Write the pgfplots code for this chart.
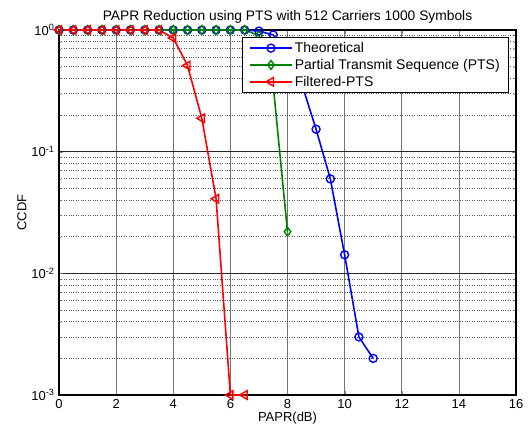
\documentclass[border=0pt]{standalone}
\usepackage{pgfplots}
\pgfplotsset{compat=1.18}
\usepackage{fontspec}
\setmainfont{Liberation Sans}
\begin{document}
\begin{tikzpicture}
\begin{axis}[
  scale only axis,
  width=457pt, height=365pt,
  ymode=log,
  xmin=0, xmax=16, ymin=1e-3, ymax=1,
  xtick={0,2,...,16},
  ytick={1e-3,1e-2,1e-1,1},
  yticklabels={10\textsuperscript{-3},10\textsuperscript{-2},10\textsuperscript{-1},10\textsuperscript{0}},
  /pgf/number format/assume math mode=true,
  tick label style={font=\fontsize{13}{15}\selectfont},
  xticklabel style={yshift=-1pt},
  yticklabel style={xshift=-1pt},
  label style={font=\fontsize{13}{15}\selectfont},
  title style={font=\fontsize{13.8}{15}\selectfont, yshift=-3pt},
  title={PAPR Reduction using PTS with 512 Carriers 1000 Symbols},
  xlabel={PAPR(dB)}, ylabel={CCDF},
  xlabel style={yshift=4pt},
  ylabel style={yshift=-2pt},
  grid=both,
  major x grid style={solid, black!55, line width=0.7pt},
  major y grid style={solid, black!85, line width=0.7pt},
  minor y grid style={dotted, black!65, line width=0.7pt},
  minor x tick num=0,
  tick align=inside,
  major tick length=4pt, minor tick length=2pt,
  axis line style={line width=1.2pt},
  clip=false,
  legend style={at={(rel axis cs:0.984,0.98)}, anchor=north east,
    font=\fontsize{14}{16}\selectfont, draw=black, line width=1pt,
    inner xsep=6.5pt, inner ysep=2.5pt, row sep=1.2pt, cells={anchor=west}},
  legend image code/.code={\draw[#1, mark repeat=2, mark phase=2] plot coordinates {(0pt,0pt)(21pt,0pt)(42pt,0pt)};},
]
\addplot[blue, line width=1.6pt, mark=o, mark size=4pt, mark options={solid, line width=1.4pt}] coordinates {
(0,1)(0.5,1)(1,1)(1.5,1)(2,1)(2.5,1)(3,1)(3.5,1)(4,1)(4.5,1)(5,1)(5.5,1)(6,1)(6.5,1)
(7,0.98)(7.5,0.91)(8,0.62)(8.5,0.36)(9,0.153)(9.5,0.0597)(10,0.0142)(10.5,0.0030)(11,0.0020)};
\addlegendentry{Theoretical}
\addplot[black!50!green, line width=1.6pt, mark=diamond, mark size=4.4pt, mark options={solid, line width=1.4pt}] coordinates {
(0,1)(0.5,1)(1,1)(1.5,1)(2,1)(2.5,1)(3,1)(3.5,1)(4,1)(4.5,1)(5,1)(5.5,1)(6,1)(6.5,1)
(7,0.9)(7.5,0.35)(8,0.022)};
\addlegendentry{Partial Transmit Sequence (PTS)}
\addplot[red, line width=1.6pt, mark=triangle, mark size=5pt, mark options={solid, rotate=90, line width=1.4pt}] coordinates {
(0,1)(0.5,1)(1,1)(1.5,1)(2,1)(2.5,1)(3,1)(3.5,1)
(4,0.86)(4.5,0.51)(5,0.188)(5.5,0.041)(6,0.001)(6.5,0.001)};
\addlegendentry{Filtered-PTS}
\end{axis}
\pgfresetboundingbox
\path[use as bounding box] (-59pt,-42pt) rectangle (473pt,395pt);
\end{tikzpicture}
\end{document}
